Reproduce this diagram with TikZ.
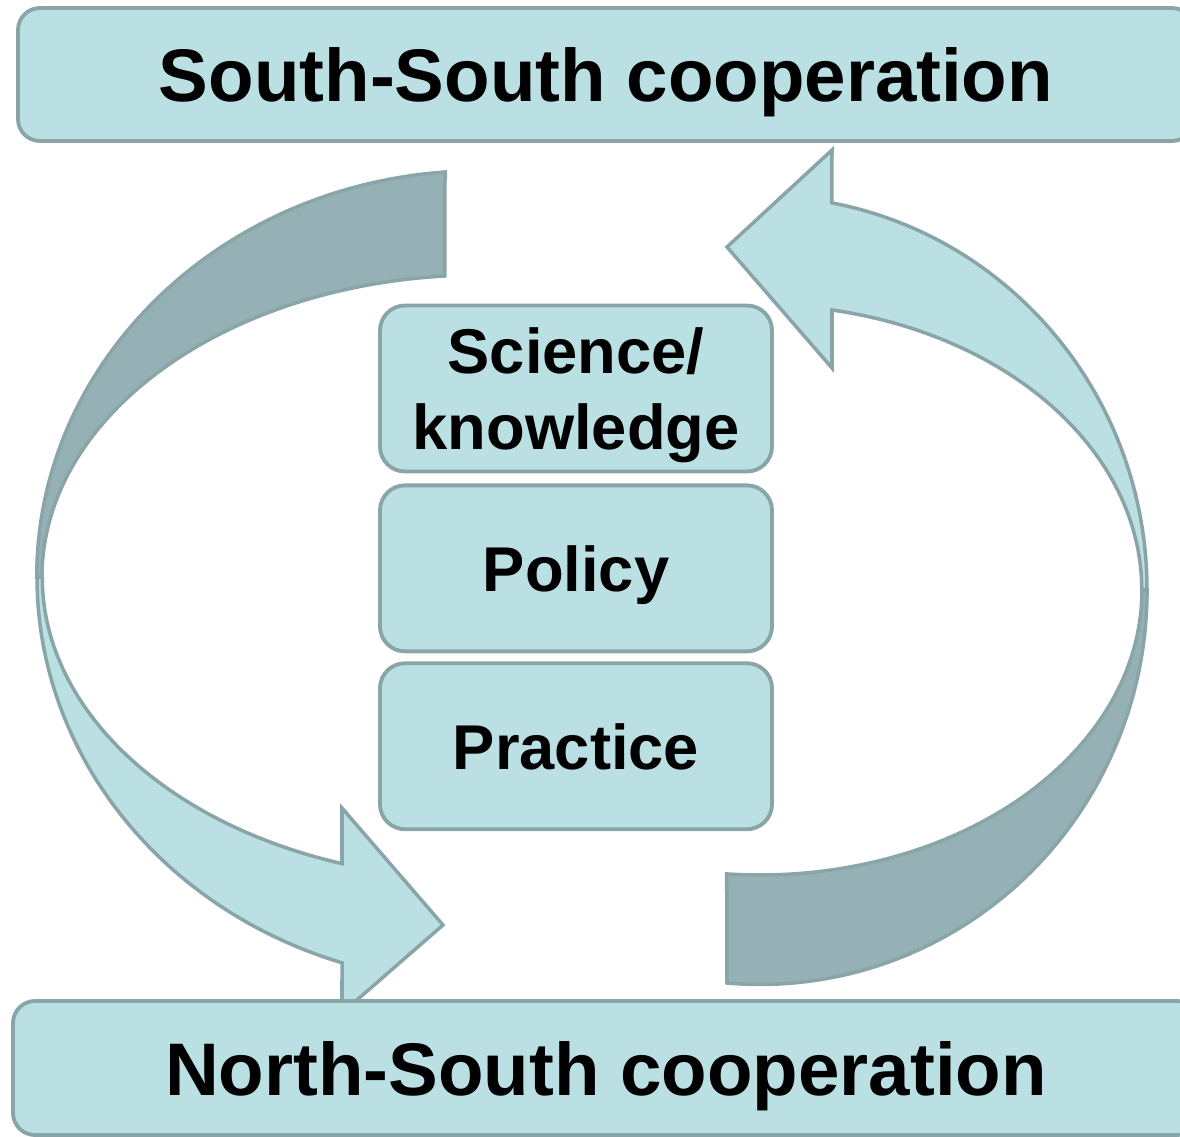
\documentclass[tikz,border=0pt]{standalone}
\usepackage{fontspec}
\setmainfont{Liberation Sans}
\usetikzlibrary{positioning}
\definecolor{boxfill}{HTML}{BAE0E3}
\definecolor{bandback}{HTML}{96B1B5}
\definecolor{rim}{HTML}{8AA5A8}

\begin{document}
\begin{tikzpicture}[line join=miter,
    every node/.style={draw=rim,fill=boxfill,line width=1.1pt,align=center},
    coop/.style={rounded corners=0.22cm,minimum width=11.76cm,minimum height=1.33cm,
      text depth=0pt,font=\fontsize{21.2}{25}\selectfont\bfseries},
    level/.style={rounded corners=0.25cm,minimum width=3.92cm,minimum height=1.66cm,
      text depth=0pt,font=\fontsize{18}{21.6}\selectfont\bfseries},
    band/.style={draw=rim,line width=1pt,fill=boxfill},
    back/.style={band,fill=bandback}]
  \useasboundingbox (0,0) rectangle (11.8,-11.37);
  \clip (0,0) rectangle (11.8,-11.37);

  % back sides of the two bands
  \draw[back] (4.45,-1.72) arc[start angle=94.5,end angle=180,x radius=4.43,y radius=4.06]
    -- (0.42,-5.77) arc[start angle=180,end angle=94.6,x radius=4.38,y radius=3.02] -- cycle;
  \draw[back] (7.27,-9.83) arc[start angle=265.1,end angle=360,x radius=3.87,y radius=3.94]
    -- (11.42,-5.90) arc[start angle=360,end angle=265,x radius=3.82,y radius=2.85] -- cycle;

  % front sides with the heads
  \draw[band] (0.37,-5.77) arc[start angle=180,end angle=251.85,x radius=4.43,y radius=4.06]
    -- (3.42,-10.13) -- (4.43,-9.25) -- (3.42,-8.08) -- (3.42,-8.636)
    arc[start angle=251.6,end angle=180,x radius=4.38,y radius=3.02] -- cycle;
  \draw[band] (11.47,-5.90) arc[start angle=0,end angle=79.3,x radius=3.87,y radius=3.94]
    -- (8.32,-1.50) -- (7.27,-2.47) -- (8.32,-3.68) -- (8.32,-3.10)
    arc[start angle=79.1,end angle=0,x radius=3.82,y radius=2.85] -- cycle;

  \node[coop] (south) at (6.06,-0.745) {South-South cooperation};
  \node[coop,minimum width=11.86cm,minimum height=1.34cm] (north) at (6.06,-10.68) {North-South cooperation};

  \node[level] (science) at (5.76,-3.885) {Science/\\knowledge};
  \node[level,below=0.1cm of science] (policy) {Policy};
  \node[level,below=0.08cm of policy] (practice) {Practice};
\end{tikzpicture}
\end{document}
